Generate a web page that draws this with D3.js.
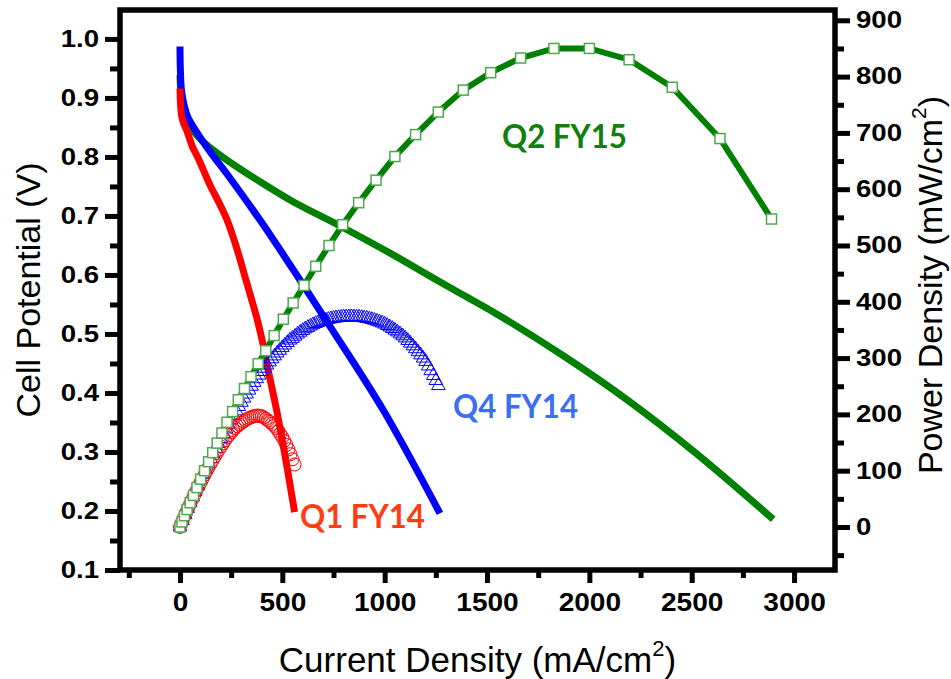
<!DOCTYPE html>
<html>
<head>
<meta charset="utf-8">
<script src="https://cdn.jsdelivr.net/npm/d3@7"></script>
<style>
  html, body { margin: 0; padding: 0; background: #fff; }
  svg { display: block; }
</style>
</head>
<body>
<svg id="chart" width="951" height="679"></svg>
<script>
// ---- Polarization curves: current density (mA/cm2) vs cell potential (V) ----
const q1Current = [0, 2, 5, 10, 20, 33, 60, 90, 114, 150, 190, 228, 260, 293, 320, 352, 380, 401, 430, 472, 510, 535, 560];
const q1Voltage = [0.916, 0.895, 0.878, 0.866, 0.855, 0.845, 0.818, 0.797, 0.778, 0.750, 0.723, 0.695, 0.664, 0.627, 0.594, 0.556, 0.521, 0.490, 0.440, 0.371, 0.300, 0.250, 0.198];

const q4Current = [0, 2, 7, 20, 39, 65, 147, 228, 391, 553, 733, 993, 1270];
const q4Voltage = [0.987, 0.947, 0.914, 0.888, 0.867, 0.851, 0.809, 0.772, 0.693, 0.609, 0.513, 0.371, 0.196];

const q2Current = [0, 5, 15, 39, 64, 122, 228, 391, 553, 782, 1042, 1221, 1368, 1547, 1873, 2198, 2524, 2898];
const q2Voltage = [0.939, 0.905, 0.880, 0.854, 0.844, 0.823, 0.795, 0.758, 0.724, 0.683, 0.634, 0.598, 0.569, 0.534, 0.463, 0.385, 0.297, 0.186];

// ---- Power density points (mW/cm2) ----
const q1PowerCurrent = [0, 10, 20, 30, 40, 50, 60, 70, 80, 90, 100, 110, 120, 130, 140, 150, 160, 170, 180, 190,
  200, 210, 220, 230, 240, 250, 260, 270, 280, 290, 300, 310, 320, 330, 340, 350, 360, 370, 380, 390,
  400, 410, 420, 430, 440, 450, 460, 470, 480, 490, 500, 510, 520, 530, 540, 550, 560];
const q1Power = [0, 8.7, 17.1, 25.4, 33.5, 41.4, 49.1, 56.8, 64.3, 71.7, 78.9, 85.9, 92.8, 99.5, 106.1, 112.5, 118.9, 125.1, 131.2, 137.2,
  142.9, 148.4, 153.8, 159, 163.5, 167.9, 172.1, 175.7, 179.1, 182.2, 185, 187.5, 189.8, 191.9, 193.8, 195.4, 196.6, 197.4, 198, 197.4,
  196.6, 194.5, 192, 189.2, 186.4, 183.2, 179.7, 175.9, 170.9, 165.3, 159.4, 153, 145.6, 137.8, 129.4, 120.3, 110.9];

const q4PowerCurrent = [0, 12.5, 25, 37.5, 50, 62.5, 75, 87.5, 100, 112.5, 125, 137.5, 150, 162.5, 175, 187.5, 200, 212.5, 225, 237.5,
  250, 262.5, 275, 287.5, 300, 312.5, 325, 337.5, 350, 362.5, 375, 387.5, 400, 412.5, 425, 437.5, 450, 462.5, 475, 487.5,
  500, 512.5, 525, 537.5, 550, 562.5, 575, 587.5, 600, 612.5, 625, 637.5, 650, 662.5, 675, 687.5, 700, 712.5, 725, 737.5,
  750, 762.5, 775, 787.5, 800, 812.5, 825, 837.5, 850, 862.5, 875, 887.5, 900, 912.5, 925, 937.5, 950, 962.5, 975, 987.5,
  1000, 1012.5, 1025, 1037.5, 1050, 1062.5, 1075, 1087.5, 1100, 1112.5, 1125, 1137.5, 1150, 1162.5, 1175, 1187.5, 1200, 1212.5, 1225, 1237.5,
  1250, 1262.5];
const q4Power = [0, 11.4, 22.1, 32.7, 43.1, 53.3, 63.3, 73.3, 83.2, 92.9, 102.5, 111.9, 121.2, 130.4, 139.4, 148.3, 157, 165.6, 174, 182.3,
  190.4, 198.3, 206.2, 213.9, 221.4, 228.8, 236, 243, 249.9, 256.7, 263.3, 269.7, 276, 281.9, 287.6, 293.2, 298.6, 303.8, 308.9, 313.8,
  318.5, 323.1, 327.6, 331.9, 335, 338.8, 342.5, 345.9, 349, 351.8, 354.4, 356.9, 359.2, 361.3, 363.2, 365, 366, 367.4, 368.7, 369.7,
  370.6, 371.3, 371.9, 372.4, 372.8, 373.1, 373.2, 373.3, 373.2, 372.9, 372.6, 372, 371.4, 370.6, 369.6, 368.4, 367.1, 365.6, 364, 362.3,
  360.3, 357.8, 355.2, 352.5, 349.4, 346.3, 342.9, 339.5, 335.7, 331.2, 326.5, 321.6, 316.5, 311.2, 305.6, 299.9, 294, 285.9, 277.5, 268.9,
  260.1, 251];

const q2PowerCurrent = [0, 10, 22, 35, 50, 66, 83, 101, 120, 140, 160, 182, 205, 230, 257, 285, 315, 347, 382, 419,
  460, 505, 553, 606, 663, 728, 795, 873, 958, 1050, 1151, 1262, 1384, 1518, 1664, 1827, 2000, 2194, 2405, 2638, 2890];
const q2Power = [0, 9, 20, 31, 43, 56, 70, 85, 100, 116, 132, 149, 167, 186, 205, 226, 246, 267, 290, 313,
  340, 369, 398, 429, 463, 500, 537, 576, 616, 658, 697, 737, 776, 807, 833, 850, 850, 830, 781, 690, 547];

// ---- Axis ticks ----
const currentTicks = [0, 500, 1000, 1500, 2000, 2500, 3000];
const currentMinorTicks = [-250, 250, 750, 1250, 1750, 2250, 2750];
const voltageTicks = [0.1, 0.2, 0.3, 0.4, 0.5, 0.6, 0.7, 0.8, 0.9, 1.0];
const voltageMinorTicks = [0.15, 0.25, 0.35, 0.45, 0.55, 0.65, 0.75, 0.85, 0.95];
const powerTicks = [0, 100, 200, 300, 400, 500, 600, 700, 800, 900];
const powerMinorTicks = [-50, 50, 150, 250, 350, 450, 550, 650, 750, 850];

// ---- Series names ----
const seriesNames = ["Q1 FY14", "Q4 FY14", "Q2 FY15"];

const svg = d3.select("#chart");
const FONT = "'Liberation Sans', Arial, Helvetica, sans-serif";

const L = 120, R = 835, T = 10, B = 570;
const x = d3.scaleLinear().domain([-293, 3200]).range([L, R]);
const yV = d3.scaleLinear().domain([0.1, 1.049]).range([B, T]);
const yP = d3.scaleLinear().domain([-76.4, 918.3]).range([B, T]);

const zip = (a, b) => a.map((v, i) => [v, b[i]]);

// ---- Polarization lines ----
const vLine = d3.line().x(d => x(d[0])).y(d => yV(d[1])).curve(d3.curveCatmullRom.alpha(0.5));
const plot = svg.append("g");

plot.append("path").datum(zip(q2Current, q2Voltage))
  .attr("d", vLine).attr("fill", "none").attr("stroke", "#008000").attr("stroke-width", 7);
plot.append("path").datum(zip(q4Current, q4Voltage))
  .attr("d", vLine).attr("fill", "none").attr("stroke", "#0000ff").attr("stroke-width", 7);
plot.append("path").datum(zip(q1Current, q1Voltage))
  .attr("d", vLine).attr("fill", "none").attr("stroke", "#ff0000").attr("stroke-width", 7);

// ---- Power density: Q4 FY14 open triangles ----
const tri = d3.symbol().type(d3.symbolTriangle).size(80);
plot.append("g").selectAll("path").data(zip(q4PowerCurrent, q4Power)).join("path")
  .attr("d", tri)
  .attr("transform", d => `translate(${x(d[0])},${yP(d[1])})`)
  .attr("fill", "none").attr("stroke", "#0000ff").attr("stroke-width", 1);

// ---- Power density: Q1 FY14 open circles ----
plot.append("g").selectAll("circle").data(zip(q1PowerCurrent, q1Power)).join("circle")
  .attr("cx", d => x(d[0])).attr("cy", d => yP(d[1])).attr("r", 6.5)
  .attr("fill", "none").attr("stroke", "#ff0000").attr("stroke-width", 1);

// ---- Power density: Q2 FY15 line with open squares ----
const q2P = zip(q2PowerCurrent, q2Power);
plot.append("path").datum(q2P)
  .attr("d", d3.line().x(d => x(d[0])).y(d => yP(d[1])))
  .attr("fill", "none").attr("stroke", "#008000").attr("stroke-width", 6);
plot.append("g").selectAll("rect").data(q2P).join("rect")
  .attr("x", d => x(d[0]) - 5).attr("y", d => yP(d[1]) - 5)
  .attr("width", 10).attr("height", 10)
  .attr("fill", "#fff").attr("stroke", "#4fa84f").attr("stroke-width", 1.5);

// ---- Axes ----
function styleAxis(g, fontSize, stretch) {
  g.select(".domain").remove();
  g.selectAll(".tick line").attr("stroke", "#000").attr("stroke-width", 5);
  g.selectAll(".tick text")
    .attr("font-family", FONT).attr("font-weight", "bold")
    .attr("font-size", fontSize).attr("fill", "#000")
    .each(function () {
      const w = this.getComputedTextLength();
      d3.select(this).attr("textLength", w * stretch).attr("lengthAdjust", "spacingAndGlyphs");
    });
}

// bottom
svg.append("g").attr("transform", `translate(0,${B})`)
  .call(d3.axisBottom(x).tickValues(currentMinorTicks).tickSize(8).tickFormat(""))
  .call(g => styleAxis(g, 25, 1));
svg.append("g").attr("transform", `translate(0,${B})`)
  .call(d3.axisBottom(x).tickValues(currentTicks).tickSize(13).tickPadding(10).tickFormat(d3.format("d")))
  .call(g => styleAxis(g, 25.5, 1.1));

// left
svg.append("g").attr("transform", `translate(${L},0)`)
  .call(d3.axisLeft(yV).tickValues(voltageMinorTicks).tickSize(10).tickFormat(""))
  .call(g => styleAxis(g, 23, 1));
svg.append("g").attr("transform", `translate(${L},0)`)
  .call(d3.axisLeft(yV).tickValues(voltageTicks).tickSize(15).tickPadding(6).tickFormat(d3.format(".1f")))
  .call(g => styleAxis(g, 23, 1.2));

// right
svg.append("g").attr("transform", `translate(${R},0)`)
  .call(d3.axisRight(yP).tickValues(powerMinorTicks).tickSize(9).tickFormat(""))
  .call(g => styleAxis(g, 23, 1));
svg.append("g").attr("transform", `translate(${R},0)`)
  .call(d3.axisRight(yP).tickValues(powerTicks).tickSize(15).tickPadding(6).tickFormat(d3.format("d")))
  .call(g => styleAxis(g, 23, 1.2));

// frame
svg.append("path")
  .attr("d", `M${L},${B} V${T} H${R} V${B} Z`)
  .attr("fill", "none").attr("stroke", "#000").attr("stroke-width", 5.5)
  .attr("stroke-linejoin", "miter");

// ---- Axis titles ----
const xTitle = svg.append("text")
  .attr("x", (L + R) / 2).attr("y", 672)
  .attr("text-anchor", "middle").attr("font-family", FONT).attr("font-size", 35).attr("fill", "#000");
xTitle.append("tspan").text("Current Density (mA/cm");
xTitle.append("tspan").attr("font-size", 22).attr("dy", -16).text("2");
xTitle.append("tspan").attr("dy", 16).text(")");

svg.append("text")
  .attr("transform", `translate(40,${(T + B) / 2}) rotate(-90)`)
  .attr("text-anchor", "middle").attr("font-family", FONT).attr("font-size", 34).attr("fill", "#000")
  .text("Cell Potential (V)");

const pTitle = svg.append("text")
  .attr("transform", `translate(942,285) rotate(-90)`)
  .attr("text-anchor", "middle").attr("font-family", FONT).attr("font-size", 34).attr("fill", "#000");
pTitle.append("tspan").text("Power Density (mW/cm");
pTitle.append("tspan").attr("font-size", 21).attr("dy", -16).text("2");
pTitle.append("tspan").attr("dy", 16).text(")");

// ---- Series labels ----
const LABEL_FONT = "Lato, 'Open Sans', sans-serif";
const labels = [
  { name: seriesNames[0], cur: 586, v: 0.171, color: "#ff3c14" },
  { name: seriesNames[1], cur: 1334, v: 0.358, color: "#3d6ff4" },
  { name: seriesNames[2], cur: 1573, v: 0.815, color: "#12800f" }
];
svg.append("g").selectAll("text").data(labels).join("text")
  .attr("x", d => x(d.cur)).attr("y", d => yV(d.v))
  .attr("font-family", LABEL_FONT).attr("font-weight", "bold").attr("font-size", 32)
  .attr("fill", d => d.color)
  .attr("textLength", 125).attr("lengthAdjust", "spacingAndGlyphs")
  .text(d => d.name);
</script>
</body>
</html>
